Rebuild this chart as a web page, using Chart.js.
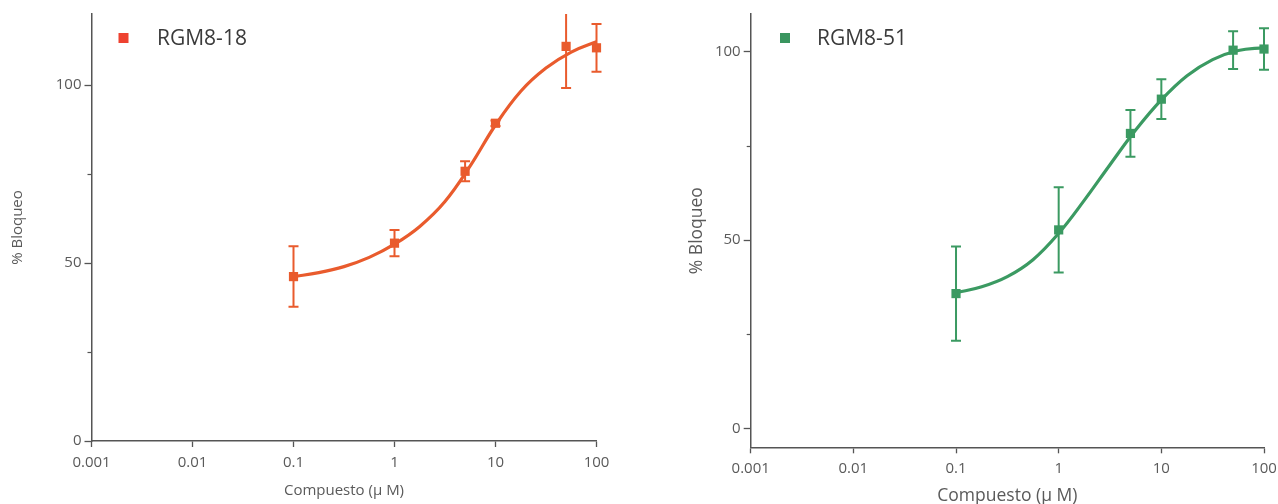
<!DOCTYPE html>
<html>
<head>
<meta charset="utf-8">
<script src="https://cdn.jsdelivr.net/npm/chart.js@4.4.1/dist/chart.umd.min.js"></script>
<style>
  html, body { margin: 0; padding: 0; background: #fff; }
  #wrap { position: relative; width: 1278px; height: 504px; overflow: hidden; }
  .panel { position: absolute; top: 0; height: 504px; }
  #p1 { left: 0; width: 640px; }
  #p2 { left: 640px; width: 638px; }
</style>
</head>
<body>
<div id="wrap">
  <div class="panel" id="p1"><canvas id="c1" width="640" height="504"></canvas></div>
  <div class="panel" id="p2"><canvas id="c2" width="638" height="504"></canvas></div>
</div>
<script>
// ---- data ----
const concentrations = [0.1, 1, 5, 10, 50, 100];            // µM
const rgm818Mean = [46.2, 55.6, 75.8, 89.3, 110.9, 110.5];
const rgm818Err  = [8.5, 3.7, 2.8, 0.8, 11.7, 6.7];
const rgm851Mean = [35.8, 52.7, 78.3, 87.4, 100.4, 100.7];
const rgm851Err  = [12.5, 11.3, 6.2, 5.3, 5.0, 5.5];

// fitted curves
const fit818X = [0.1, 0.178, 0.316, 0.562, 1, 1.78, 3.16, 5.62, 10, 17.8, 31.6, 56.2, 100];
const fit818Y = [46.2, 47.3, 49.0, 51.6, 55.3, 60.3, 67.3, 77.3, 88.8, 98.3, 104.8, 109.3, 112.2];
const fit851X = [0.1, 0.178, 0.316, 0.562, 1, 1.78, 3.16, 5.62, 10, 17.8, 31.6, 56.2, 100];
const fit851Y = [36.0, 37.6, 40.3, 44.8, 51.8, 60.6, 70.0, 79.2, 87.2, 93.6, 97.9, 100.3, 101.1];

const xTickValues = [0.001, 0.01, 0.1, 1, 10, 100];
const xTickLabels = ['0.001', '0.01', '0.1', '1', '10', '100'];
const yTickValues = [0, 50, 100];
const yTickLabels = ['0', '50', '100'];
const yMinorTicks = [25, 75];

const xTitle = 'Compuesto (\u00b5 M)';
const yTitle = '% Bloqueo';

// ---- helpers ----
const FONT = "'Open Sans', 'DejaVu Sans', sans-serif";
const TEXT = '#5a5a5a';
const AXIS = '#555555';

const errorBarPlugin = {
  id: 'errorBars',
  afterDatasetsDraw(chart) {
    const ctx = chart.ctx;
    const xs = chart.scales.x, ys = chart.scales.y;
    const top = chart.chartArea.top;
    chart.data.datasets.forEach(ds => {
      if (!ds.errors) return;
      ctx.save();
      ctx.strokeStyle = ds.borderColor;
      ctx.lineWidth = 2;
      ds.data.forEach((p, i) => {
        const e = ds.errors[i];
        if (!e) return;
        const x = xs.getPixelForValue(p.x);
        let yHi = ys.getPixelForValue(p.y + e);
        const yLo = ys.getPixelForValue(p.y - e);
        const clipped = yHi < top;
        if (clipped) yHi = top;
        ctx.beginPath();
        ctx.moveTo(x, yHi); ctx.lineTo(x, yLo);
        if (!clipped) { ctx.moveTo(x - 5, yHi); ctx.lineTo(x + 5, yHi); }
        ctx.moveTo(x - 5, yLo); ctx.lineTo(x + 5, yLo);
        ctx.stroke();
      });
      ctx.restore();
    });
  }
};

const minorTickPlugin = {
  id: 'minorTicks',
  afterDraw(chart) {
    const ctx = chart.ctx, ys = chart.scales.y, left = chart.chartArea.left;
    ctx.save();
    ctx.strokeStyle = AXIS;
    ctx.lineWidth = 1.2;
    yMinorTicks.forEach(v => {
      const y = Math.round(ys.getPixelForValue(v)) + 0.5;
      ctx.beginPath(); ctx.moveTo(left - 4, y); ctx.lineTo(left, y); ctx.stroke();
    });
    ctx.restore();
  }
};

const legendPlugin = {
  id: 'customLegend',
  afterDraw(chart, args, opts) {
    const ctx = chart.ctx;
    ctx.save();
    ctx.fillStyle = opts.color;
    ctx.fillRect(opts.x - 5, opts.y - 5, 10, 10);
    ctx.fillStyle = '#3a3a3a';
    ctx.font = "21px " + FONT;
    ctx.textBaseline = 'middle';
    ctx.textAlign = 'left';
    ctx.fillText(opts.text, opts.tx, opts.y + 1);
    ctx.restore();
  }
};

function makeChart(id, cfg) {
  const pts = cfg.mean.map((v, i) => ({ x: concentrations[i], y: v }));
  const fit = cfg.fitX.map((x, i) => ({ x: x, y: cfg.fitY[i] }));
  return new Chart(document.getElementById(id), {
    type: 'line',
    data: {
      datasets: [
        {
          label: cfg.label + ' fit',
          data: fit,
          borderColor: cfg.color,
          borderWidth: 3.2,
          pointRadius: 0,
          tension: 0.4,
          fill: false
        },
        {
          label: cfg.label,
          data: pts,
          errors: cfg.err,
          showLine: false,
          borderColor: cfg.color,
          backgroundColor: cfg.color,
          pointStyle: 'rect',
          pointRadius: 6.5,
          pointBorderWidth: 0,
          clip: false
        }
      ]
    },
    options: {
      responsive: false,
      animation: false,
      devicePixelRatio: 1,
      layout: { padding: { top: 14, right: cfg.padRight, bottom: 0, left: 0 } },
      plugins: {
        legend: { display: false },
        tooltip: { enabled: false },
        customLegend: { text: cfg.label, color: cfg.legendColor, x: cfg.legX, y: 38, tx: cfg.legTextX }
      },
      scales: {
        x: {
          type: 'logarithmic',
          min: 0.001, max: 100,
          afterBuildTicks: s => { s.ticks = xTickValues.map(v => ({ value: v })); },
          afterFit: s => { s.height = cfg.xAxisH; s.paddingLeft = 0; s.paddingRight = 0; },
          ticks: {
            autoSkip: false, maxRotation: 0, padding: cfg.xTickPad,
            color: TEXT, font: { family: FONT, size: 15 },
            callback: v => { const i = xTickValues.indexOf(v); return i >= 0 ? xTickLabels[i] : ''; }
          },
          grid: { drawOnChartArea: false, drawTicks: true, tickLength: 6, tickColor: AXIS, tickWidth: 1.3 },
          border: { display: true, color: AXIS, width: 1.5 },
          title: { display: true, text: xTitle, color: TEXT,
                   font: { family: FONT, size: cfg.titleSize }, padding: { top: 0, bottom: cfg.xTitlePadB } }
        },
        y: {
          type: 'linear',
          min: cfg.yMin, max: cfg.yMax,
          afterBuildTicks: s => { s.ticks = yTickValues.map(v => ({ value: v })); },
          afterFit: s => { s.width = cfg.yAxisW; },
          ticks: {
            padding: 3, color: TEXT, font: { family: FONT, size: 15 },
            callback: v => { const i = yTickValues.indexOf(v); return i >= 0 ? yTickLabels[i] : ''; }
          },
          grid: { drawOnChartArea: false, drawTicks: true, tickLength: 7, tickColor: AXIS, tickWidth: 1.3 },
          border: { display: true, color: AXIS, width: 1.5 },
          title: { display: true, text: yTitle, color: TEXT,
                   font: { family: FONT, size: cfg.titleSize }, padding: { top: cfg.yTitlePadT, bottom: 0 } }
        }
      }
    },
    plugins: [errorBarPlugin, minorTickPlugin, legendPlugin]
  });
}

makeChart('c1', {
  label: 'RGM8-18', color: '#E95B2D', legendColor: '#EE4230',
  mean: rgm818Mean, err: rgm818Err, fitX: fit818X, fitY: fit818Y,
  yMin: 0, yMax: 120, yAxisW: 91.5, xAxisH: 63, padRight: 43.5,
  xTickPad: 7, xTitlePadB: 4, yTitlePadT: 9, titleSize: 15,
  legX: 123.5, legTextX: 157
});

makeChart('c2', {
  label: 'RGM8-51', color: '#3B9A62', legendColor: '#3A955F',
  mean: rgm851Mean, err: rgm851Err, fitX: fit851X, fitY: fit851Y,
  yMin: -5, yMax: 110, yAxisW: 110.7, xAxisH: 56.7, padRight: 14,
  xTickPad: 6, xTitlePadB: -3, yTitlePadT: 47, titleSize: 17.5,
  legX: 145, legTextX: 177
});
</script>
</body>
</html>
